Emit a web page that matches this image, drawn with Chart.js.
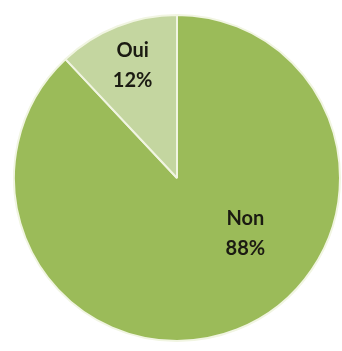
<!DOCTYPE html>
<html>
<head>
<meta charset="utf-8">
<script src="https://cdn.jsdelivr.net/npm/chart.js@4/dist/chart.umd.min.js"></script>
<style>
html,body{margin:0;padding:0;background:#fff;width:342px;height:351px;overflow:hidden;}
#wrap{position:absolute;left:13px;top:14px;width:328px;height:328px;}
</style>
</head>
<body>
<div id="wrap"><canvas id="c" width="328" height="328"></canvas></div>
<script>
const categories = ['Non', 'Oui'];
const values = [88, 12];
const percentLabels = ['88%', '12%'];
const colors = ['#9bbb59', '#c4d6a0'];

const labelPlugin = {
  id: 'sliceLabels',
  afterDatasetsDraw(chart, args, opts) {
    const ctx = chart.ctx;
    const meta = chart.getDatasetMeta(0);
    meta.data.forEach((arc, i) => {
      const p = opts.placement[i];
      const mid = (arc.startAngle + arc.endAngle) / 2;
      const ang = p.angle !== undefined ? p.angle * Math.PI / 180 : mid;
      const r = arc.outerRadius * p.r;
      const x = arc.x + Math.cos(ang) * r;
      const y = arc.y + Math.sin(ang) * r;
      ctx.save();
      ctx.fillStyle = '#1b1b12';
      ctx.font = 'bold 20px Lato, "DejaVu Sans", sans-serif';
      ctx.textAlign = 'center';
      ctx.textBaseline = 'middle';
      ctx.fillText(categories[i], x, y - 15);
      ctx.fillText(percentLabels[i], x, y + 15);
      ctx.restore();
    });
  }
};

new Chart(document.getElementById('c'), {
  type: 'pie',
  data: {
    labels: categories,
    datasets: [{
      data: values,
      backgroundColor: colors,
      borderColor: '#f1f5e2',
      borderWidth: 2,
      hoverOffset: 0
    }]
  },
  options: {
    responsive: false,
    animation: false,
    layout: { padding: 0 },
    plugins: {
      legend: { display: false },
      tooltip: { enabled: false },
      title: { display: false },
      sliceLabels: {
        placement: [ { angle: 39, r: 0.54 }, { r: 0.74 } ]
      }
    }
  },
  plugins: [labelPlugin]
});
</script>
</body>
</html>
